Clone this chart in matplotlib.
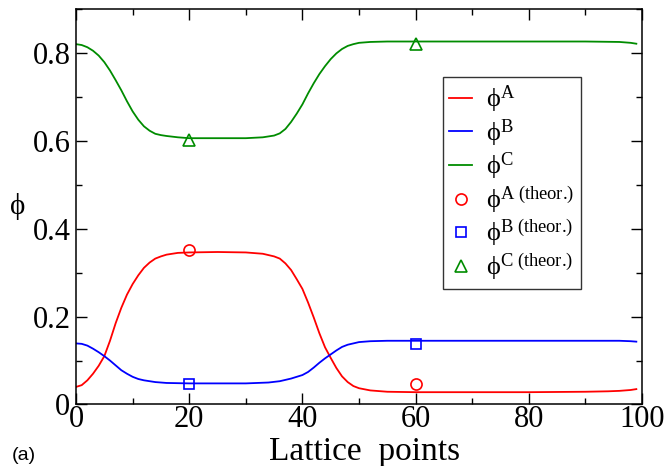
import matplotlib
matplotlib.use('Agg')
import matplotlib.pyplot as plt
from matplotlib.ticker import MultipleLocator

plt.rcParams['font.family'] = ['Liberation Serif', 'DejaVu Serif']
plt.rcParams['mathtext.fontset'] = 'custom'
plt.rcParams['mathtext.rm'] = 'Liberation Serif'
plt.rcParams['mathtext.it'] = 'Liberation Serif:italic'

# lattice position and composition profiles
x_a = [0, 1, 2, 3, 4, 5, 6, 7, 8, 9, 10, 11, 12, 13, 14, 15, 16, 18, 20, 25, 30, 33, 35, 36, 37,
       38, 39, 40, 41, 42, 43, 44, 45, 46, 47, 48, 49, 50, 52, 55, 60, 70, 80, 90, 94, 96, 98, 99]
phi_a = [0.040, 0.044, 0.055, 0.070, 0.088, 0.110, 0.145, 0.185, 0.220, 0.250, 0.274, 0.294,
         0.311, 0.323, 0.332, 0.337, 0.341, 0.345, 0.346, 0.347, 0.346, 0.343, 0.337, 0.332, 0.321,
         0.306, 0.285, 0.263, 0.232, 0.198, 0.162, 0.130, 0.106, 0.083, 0.064, 0.051, 0.042,
         0.037, 0.032, 0.029, 0.028, 0.028, 0.028, 0.029, 0.030, 0.031, 0.033, 0.035]

x_b = [0, 1, 2, 3, 4, 5, 6, 7, 8, 9, 10, 11, 12, 13, 14, 16, 20, 30, 34, 36, 37, 38, 39, 40, 41,
       42, 43, 44, 45, 46, 47, 48, 49, 50, 52, 55, 60, 90, 96, 98, 99]
phi_b = [0.139, 0.138, 0.134, 0.127, 0.119, 0.110, 0.100, 0.089, 0.078, 0.070, 0.063, 0.058,
         0.055, 0.053, 0.051, 0.049, 0.048, 0.048, 0.050, 0.053, 0.056, 0.059, 0.063, 0.067, 0.074,
         0.084, 0.095, 0.105, 0.114, 0.123, 0.131, 0.136, 0.139, 0.142, 0.144, 0.145, 0.145,
         0.145, 0.145, 0.144, 0.143]

x_c = [0, 1, 2, 3, 4, 5, 6, 7, 8, 9, 10, 11, 12, 13, 14, 15, 16, 18, 20, 30, 33, 35, 36, 37, 38,
       39, 40, 41, 42, 43, 44, 45, 46, 47, 48, 49, 50, 52, 55, 60, 90, 96, 98, 99]
phi_c = [0.820, 0.818, 0.813, 0.805, 0.794, 0.779, 0.760, 0.738, 0.715, 0.690, 0.667, 0.648,
         0.633, 0.623, 0.616, 0.613, 0.611, 0.608, 0.606, 0.606, 0.608, 0.612, 0.617, 0.627, 0.643,
         0.662, 0.683, 0.708, 0.731, 0.752, 0.770, 0.786, 0.799, 0.809, 0.816, 0.820, 0.823,
         0.825, 0.826, 0.826, 0.826, 0.825, 0.823, 0.821]

x_theor = [20, 60]
phi_a_theor = [0.352, 0.047]
phi_b_theor = [0.047, 0.137]
phi_c_theor = [0.602, 0.820]

red, blue, green = '#ff0000', '#0000ff', '#008c00'

fig = plt.figure(figsize=(6.67, 4.66), dpi=100)
ax = fig.add_axes([0.114, 0.132, 0.8485, 0.8487])

ax.plot(x_a, phi_a, color=red, lw=1.3, label=r'$\mathrm{\phi}^{\text{A}}$')
ax.plot(x_b, phi_b, color=blue, lw=1.3, label=r'$\mathrm{\phi}^{\text{B}}$')
ax.plot(x_c, phi_c, color=green, lw=1.3, label=r'$\mathrm{\phi}^{\text{C}}$')
ax.plot(x_theor, phi_a_theor, 'o', mfc='none', mec=red, ms=8, mew=1.2,
        label=r'$\mathrm{\phi}^{\text{A (theor.)}}$')
ax.plot(x_theor, phi_b_theor, 's', mfc='none', mec=blue, ms=7.5, mew=1.2,
        label=r'$\mathrm{\phi}^{\text{B (theor.)}}$')
ax.plot(x_theor, phi_c_theor, '^', mfc='none', mec=green, ms=9, mew=1.2,
        label=r'$\mathrm{\phi}^{\text{C (theor.)}}$')

ax.set_xlim(0, 100)
ax.set_ylim(0, 0.9)
ax.set_xticks([0, 20, 40, 60, 80, 100])
ax.set_xticklabels(['0', '20', '40', '60', '80', '100'])
ax.set_yticks([0, 0.2, 0.4, 0.6, 0.8])
ax.set_yticklabels(['0', '0.2', '0.4', '0.6', '0.8'])
ax.xaxis.set_minor_locator(MultipleLocator(10))
ax.yaxis.set_minor_locator(MultipleLocator(0.1))
ax.tick_params(which='both', direction='in', top=True, right=True, labelsize=22, width=1)
ax.tick_params(which='major', length=8)
ax.tick_params(which='minor', length=4)
ax.tick_params(axis='x', which='major', pad=0.5)
ax.tick_params(axis='y', which='major', pad=4)
for s in ax.spines.values():
    s.set_linewidth(1.1)

fig.text(365 / 667, 6 / 466, 'Lattice  points', fontsize=24, ha='center', va='baseline')
fig.text(17 / 667, 1 - 207 / 466, r'$\mathrm{\phi}$', fontsize=21, ha='center', va='center')
fig.text(12 / 667, 0.004, '(a)', fontsize=14, family='Liberation Sans', ha='left', va='bottom')

leg = ax.legend(loc='upper left', bbox_to_anchor=(0.648, 0.828), fontsize=19,
                handlelength=0.85, handletextpad=0.55, labelspacing=0.08,
                borderpad=0.25, fancybox=False, framealpha=1, borderaxespad=0)
leg.get_frame().set_edgecolor('#333333')
leg.get_frame().set_linewidth(1)

fig.savefig('out.png', dpi=100)
